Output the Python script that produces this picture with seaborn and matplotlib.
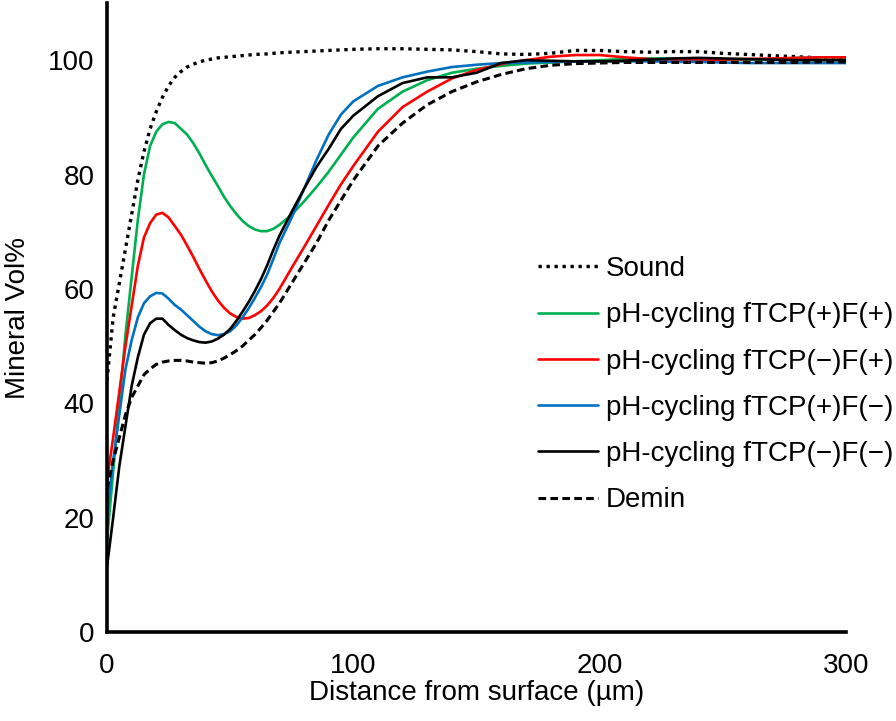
import numpy as np
import pandas as pd
import matplotlib
matplotlib.use("Agg")
import matplotlib.pyplot as plt
import seaborn as sns

x = [0, 2.5, 5, 7.5, 10, 12.5, 15, 17.5, 20, 22.5, 25, 27.5,
     30, 32.5, 35, 37.5, 40, 42.5, 45, 47.5, 50, 52.5, 55, 57.5, 60, 62.5, 65, 67.5, 70,
     75, 80, 85, 90, 95, 100,
     110, 120, 130, 140, 150, 160, 170, 180, 190, 200, 210, 220, 230, 240, 250, 260, 270,
     280, 290, 300]

sound = [44, 55, 61, 67, 73, 79, 84, 88, 91, 93.5, 95.5, 97,
         98, 98.8, 99.3, 99.7, 100, 100.2, 100.4, 100.5, 100.6, 100.7, 100.8, 100.9, 101,
         101.05, 101.1, 101.2, 101.3,
         101.4, 101.5, 101.6, 101.7, 101.8, 101.9,
         102, 102, 101.9, 101.8, 101.5, 101.1, 101, 101.2, 101.7, 101.7, 101.5, 101.4, 101.5,
         101.5, 101.2, 101, 100.8, 100.6, 100.4, 100.2]
tcp_p_f_p = [16, 28, 40, 52, 62, 72, 80, 85, 87.5, 88.8, 89.2, 89,
             88, 87, 85.5, 83.7, 81.7, 79.8, 78, 76.1, 74.5, 73.1, 71.9, 71, 70.4, 70.1, 70.1,
             70.5, 71.2,
             73, 75.3, 77.8, 80.5, 83.5, 86.5,
             91.5, 94.5, 96.5, 97.8, 98.5, 99, 99.4, 99.6, 99.8, 100, 100.2, 100.3, 100.3,
             100.2, 100.1, 100.1, 100.2, 100.4, 100.5, 100.5]
tcp_m_f_p = [26.5, 34, 42, 50, 57, 64, 69, 71.5, 73, 73.3, 72.5, 71,
             69.5, 67.6, 65.6, 63.5, 61.5, 59.6, 58, 56.7, 55.7, 55.1, 54.8, 54.9, 55.4, 56.1,
             57.1, 58.4, 60,
             63.7, 67.3, 71, 74.7, 78.3, 81.5,
             87.5, 91.8, 94.5, 96.8, 98.3, 99.3, 100, 100.6, 100.9, 100.9, 100.5, 100.2, 100,
             100, 100.1, 100.2, 100.3, 100.4, 100.5, 100.5]
tcp_p_f_m = [20.5, 30, 38, 46, 51, 55, 57.5, 58.7, 59.3, 59.2, 58.3, 57.2,
             56.4, 55.4, 54.4, 53.4, 52.6, 52.1, 51.9, 52.1, 52.6, 53.6, 55, 56.6, 58.4, 60.3,
             62.5, 65.2, 68,
             72.5, 77.5, 82.5, 87, 90.5, 92.8,
             95.5, 97, 98, 98.8, 99.2, 99.5, 99.6, 99.7, 99.8, 99.8, 99.8, 99.8, 99.7, 99.7,
             99.6, 99.5, 99.5, 99.5, 99.5, 99.5]
tcp_m_f_m = [11.4, 20, 29, 36, 43, 48, 52, 54, 54.8, 54.8, 53.7, 52.8,
             52, 51.4, 51, 50.7, 50.6, 50.8, 51.3, 52, 53, 54.4, 56, 57.7, 59.6, 61.7, 64.1,
             66.8, 69.3,
             73.5, 77.5, 81.3, 84.5, 88, 90.3,
             93.7, 96, 97, 97, 97.8, 99.5, 100, 99.9, 99.8, 99.8, 99.9, 100.1, 100.3, 100.4,
             100.3, 100.2, 100.1, 100, 100, 100]
demin = [25, 30, 34, 38, 41, 43, 45, 46, 46.8, 47.2, 47.4, 47.5,
         47.5, 47.4, 47.2, 47.1, 47, 47.1, 47.4, 47.9, 48.5, 49.2, 50, 51, 52, 53.2, 54.5,
         56, 57.5,
         61, 64.5, 68, 72, 75.5, 79,
         85, 89, 92.2, 94.5, 96.2, 97.5, 98.5, 99.1, 99.4, 99.5, 99.6, 99.6, 99.6, 99.6,
         99.6, 99.6, 99.6, 99.6, 99.7, 99.7]

labels = ["Sound", "pH-cycling fTCP(+)F(+)", "pH-cycling fTCP(\u2212)F(+)",
          "pH-cycling fTCP(+)F(\u2212)", "pH-cycling fTCP(\u2212)F(\u2212)", "Demin"]
x_ticks = [0, 100, 200, 300]
y_ticks = [0, 20, 40, 60, 80, 100]

series = [sound, tcp_p_f_p, tcp_m_f_p, tcp_p_f_m, tcp_m_f_m, demin]
colors = ["black", "#00B050", "#FF0000", "#0070C0", "black", "black"]
styles = [dict(linestyle=(0, (1, 1.4)), lw=2.4),
          dict(linestyle="-", lw=1.9),
          dict(linestyle="-", lw=1.9),
          dict(linestyle="-", lw=1.9),
          dict(linestyle="-", lw=1.9),
          dict(linestyle=(0, (2.5, 1.4)), lw=2.2)]

sns.set_theme(style="white")
plt.rcParams['font.family'] = ['Liberation Sans', 'DejaVu Sans']
plt.rcParams['text.color'] = 'black'
plt.rcParams['xtick.color'] = 'black'
plt.rcParams['ytick.color'] = 'black'
plt.rcParams['axes.labelcolor'] = 'black'

fig = plt.figure(figsize=(8.96, 7.21), dpi=100)
ax = fig.add_axes([107/896, 1 - 632/721, (846-107)/896, (632-3)/721])

for lab, ys, c, st in zip(labels, series, colors, styles):
    df = pd.DataFrame({"x": x, "y": ys})
    sns.lineplot(data=df, x="x", y="y", ax=ax, color=c, label=lab, **st)

ax.set_xlim(0, 300)
ax.set_ylim(0, 110)
ax.set_xticks(x_ticks)
ax.set_yticks(y_ticks)
ax.tick_params(axis="x", labelsize=20, length=0, pad=15)
ax.tick_params(axis="y", labelsize=20, length=0, pad=9)
ax.set_xlabel("Distance from surface (\u00b5m)", fontsize=20, labelpad=1)
ax.set_ylabel("Mineral Vol%", fontsize=20, labelpad=12)
for s in ["top", "right"]:
    ax.spines[s].set_visible(False)
for s in ["left", "bottom"]:
    ax.spines[s].set_color("black")
    ax.spines[s].set_linewidth(2.6)

leg = ax.legend(loc="upper left", bbox_to_anchor=(538/896, 1 - 256/721),
                bbox_transform=fig.transFigure, frameon=False, fontsize=20,
                handlelength=2.16, handletextpad=0.28, labelspacing=0.73,
                borderpad=0, borderaxespad=0)

fig.savefig("out.png", dpi=100)
